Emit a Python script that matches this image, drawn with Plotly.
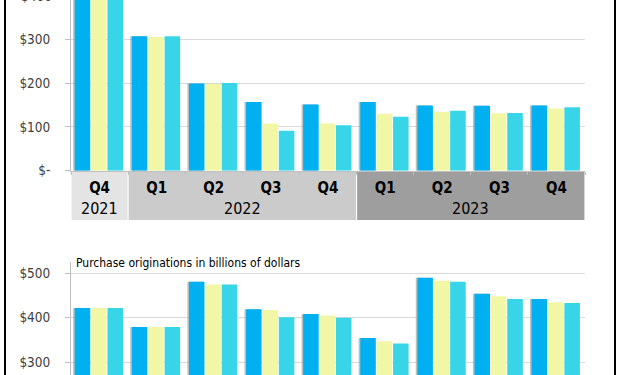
import plotly.graph_objects as go

# ---------------- data ----------------
periods = ["2021 Q4", "2022 Q1", "2022 Q2", "2022 Q3", "2022 Q4",
           "2023 Q1", "2023 Q2", "2023 Q3", "2023 Q4"]
quarter_labels = ["Q4", "Q1", "Q2", "Q3", "Q4", "Q1", "Q2", "Q3", "Q4"]
years = ["2021", "2022", "2023"]
year_spans = [(0, 0), (1, 4), (5, 8)]  # first/last period index of each year

# top panel (billions of dollars)
top_s1 = [450, 307, 199, 157, 151, 157, 149, 148, 149]
top_s2 = [450, 305, 198, 108, 108, 130, 134, 131, 142]
top_s3 = [450, 307, 200, 91, 104, 123, 137, 132, 145]

# bottom panel (purchase originations, billions of dollars)
bot_s1 = [422, 379, 481, 419, 408, 354, 490, 454, 442]
bot_s2 = [422, 379, 475, 417, 405, 347, 483, 448, 435]
bot_s3 = [422, 379, 475, 401, 400, 342, 481, 442, 433]

top_ticks = [0, 100, 200, 300, 400]
top_ticktext = ["$-", "$100", "$200", "$300", "$400"]
bot_ticks = [300, 400, 500]
bot_ticktext = ["$300", "$400", "$500"]
bottom_title = "Purchase originations in billions of dollars"

# ---------------- style ----------------
W, H = 620, 375
colors = ["#00b0f0", "#f2f7a6", "#38d5e8"]
band_colors = ["#e4e4e4", "#cbcbcb", "#9e9e9e"]
NARROW = "Liberation Sans Narrow, DejaVu Sans Condensed, Arial Narrow, sans-serif"
axis_gray = "#bfbfbf"
grid_gray = "#d9d9d9"

x_left, x_right = 71, 585
top_y0, top_y1 = 0, 170.7
bot_y0, bot_y1 = 262, 375
top_range = [0, 389.7]
bot_range = [270.7, 525.5]

offsets = [-0.435, -0.148, 0.139]
bw = 0.272


def px_to_paper_y(py):
    return 1 - py / H


fig = go.Figure()


def add_panel(series, xa, ya):
    # subtle shadow behind first bar of every group
    fig.add_trace(go.Bar(x=periods, y=series[0], xaxis=xa, yaxis=ya,
                         marker=dict(color="rgba(140,140,140,0.55)", line=dict(width=0)),
                         width=bw, offset=offsets[0] - 0.028,
                         showlegend=False, hoverinfo="skip"))
    for s, c, off in zip(series, colors, offsets):
        fig.add_trace(go.Bar(x=periods, y=s, xaxis=xa, yaxis=ya,
                             marker=dict(color=c, line=dict(width=0)),
                             width=bw, offset=off, showlegend=False))


add_panel([top_s1, top_s2, top_s3], "x", "y")
add_panel([bot_s1, bot_s2, bot_s3], "x2", "y2")

xdom = [x_left / W, x_right / W]
ytickfont = dict(family=NARROW, size=13.5, color="#404040")

fig.update_layout(
    width=W, height=H,
    margin=dict(l=0, r=0, t=0, b=0, autoexpand=False),
    paper_bgcolor="white", plot_bgcolor="white",
    barmode="overlay",
    font=dict(family=NARROW, color="#404040"),
    xaxis=dict(domain=xdom, anchor="y", type="category", automargin=False,
               categoryorder="array", categoryarray=periods,
               tickvals=periods, ticktext=quarter_labels,
               tickfont=dict(family=NARROW, size=15, color="#000000", weight="bold"),
               showline=True, linecolor=axis_gray, linewidth=1,
               ticks="outside", tickson="boundaries", ticklen=3, tickcolor=axis_gray,
               ticklabelstandoff=3,
               showgrid=False, zeroline=False, range=[-0.5, 8.5]),
    yaxis=dict(domain=[px_to_paper_y(top_y1), px_to_paper_y(top_y0)], anchor="x",
               automargin=False,
               range=top_range, tickvals=top_ticks, ticktext=top_ticktext,
               tickfont=ytickfont,
               showline=True, linecolor=axis_gray, linewidth=1,
               ticks="outside", ticklen=5, tickcolor=axis_gray, ticklabelstandoff=12,
               showgrid=True, gridcolor=grid_gray, gridwidth=1, zeroline=False),
    xaxis2=dict(domain=xdom, anchor="y2", type="category", automargin=False,
                categoryorder="array", categoryarray=periods,
                showticklabels=False, showline=False, ticks="",
                showgrid=False, zeroline=False, range=[-0.5, 8.5]),
    yaxis2=dict(domain=[px_to_paper_y(bot_y1), px_to_paper_y(bot_y0)], anchor="x2",
                automargin=False,
                range=bot_range, tickvals=bot_ticks, ticktext=bot_ticktext,
                tickfont=ytickfont,
                showline=True, linecolor=axis_gray, linewidth=1,
                ticks="outside", ticklen=5, tickcolor=axis_gray, ticklabelstandoff=12,
                showgrid=True, gridcolor=grid_gray, gridwidth=1, zeroline=False),
)

shapes = []
# year bands under the top x axis
band_top = px_to_paper_y(171.5)
band_bot = px_to_paper_y(220)
for (i0, i1), bc in zip(year_spans, band_colors):
    shapes.append(dict(type="rect", xref="x", yref="paper",
                       x0=i0 - 0.5 + 0.01, x1=i1 + 0.5 - 0.01,
                       y0=band_bot, y1=band_top,
                       fillcolor=bc, line=dict(width=0), layer="below"))
# black frame lines left/right
for xp in (5, 615):
    shapes.append(dict(type="line", xref="paper", yref="paper",
                       x0=xp / W, x1=xp / W, y0=0, y1=1,
                       line=dict(color="#000000", width=2)))
fig.update_layout(shapes=shapes)

annotations = []
for (i0, i1), yr in zip(year_spans, years):
    annotations.append(dict(xref="x", yref="paper", x=(i0 + i1) / 2,
                            y=px_to_paper_y(208), text=yr, showarrow=False,
                            xanchor="center", yanchor="middle",
                            font=dict(family=NARROW, size=16, color="#000000")))
annotations.append(dict(xref="paper", yref="paper", x=74 / W, y=px_to_paper_y(263),
                        text=bottom_title, showarrow=False,
                        xanchor="left", yanchor="middle",
                        font=dict(family=NARROW, size=12, color="#000000")))
# tick label of $400 that sits just above the visible top edge (cut off, as in the original)
annotations.append(dict(xref="paper", yref="paper", x=54 / W, y=px_to_paper_y(-4),
                        text=top_ticktext[-1], showarrow=False,
                        xanchor="right", yanchor="middle",
                        font=ytickfont))
fig.update_layout(annotations=annotations)

fig.write_html("out.html", config={"displayModeBar": False},
               post_script="document.body.style.margin='0';")
